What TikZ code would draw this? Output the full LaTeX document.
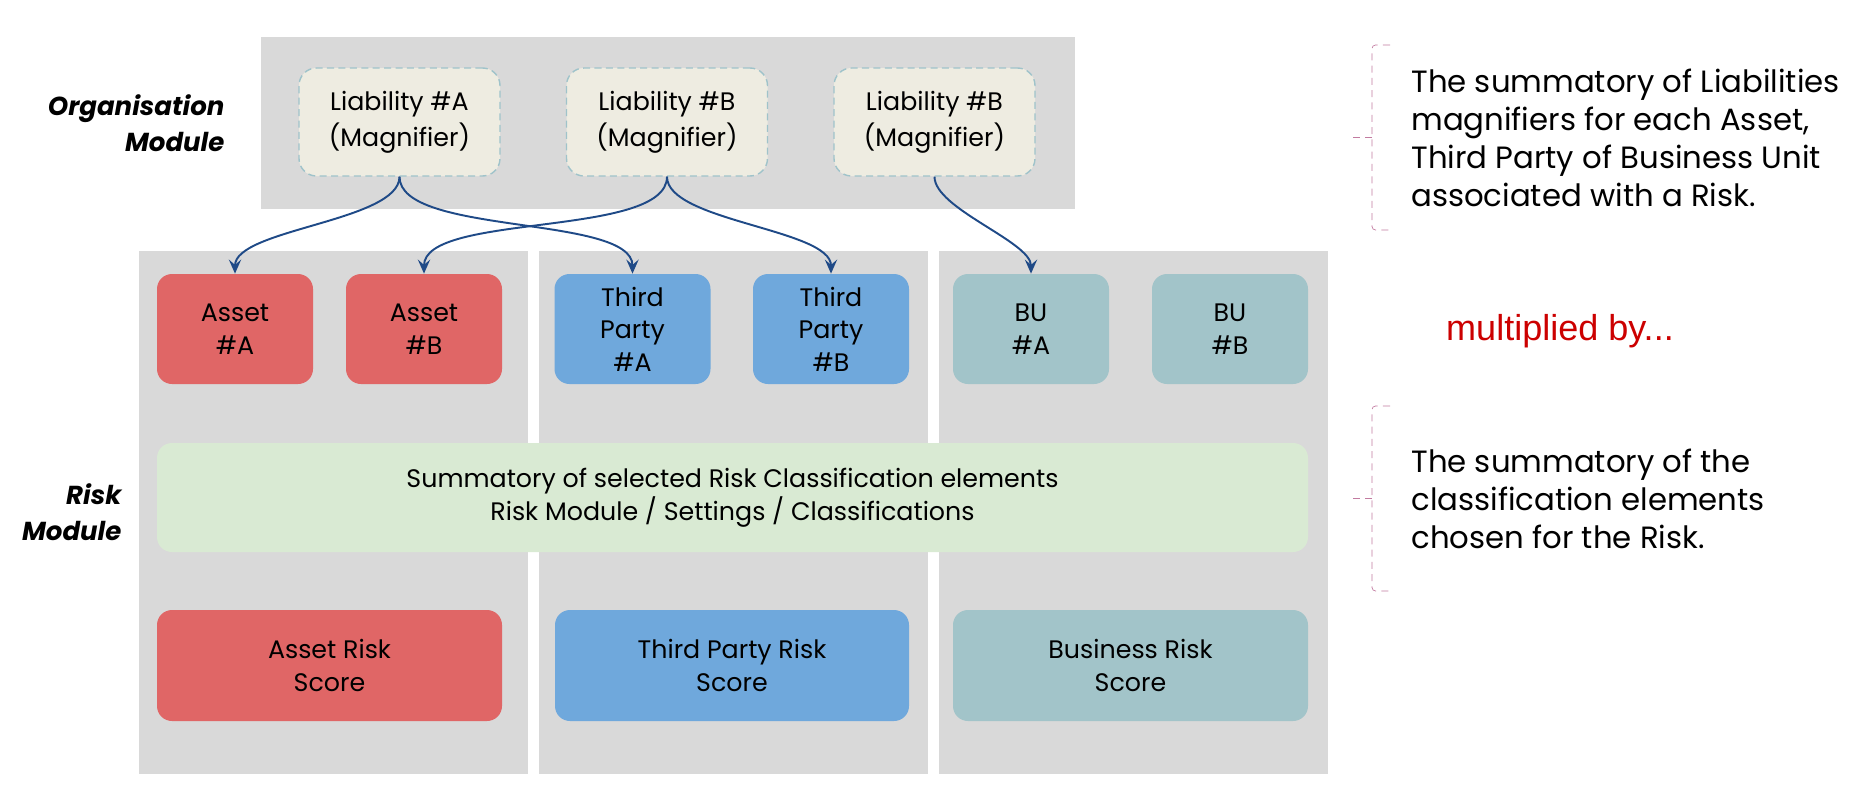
\documentclass[tikz,border=0pt]{standalone}
\usepackage{fontspec}
\setmainfont{Poppins}
\newfontfamily\arialfont{Liberation Sans}
\usepackage{tikz}
\usetikzlibrary{arrows,arrows.meta,shapes,positioning}
\usepackage{xcolor}
\definecolor{rmgray}{HTML}{D9D9D9}
\definecolor{rmcream}{HTML}{EEECE1}
\definecolor{rmdash}{HTML}{9FC3CA}
\definecolor{rmred}{HTML}{E06666}
\definecolor{rmblue}{HTML}{6FA8DC}
\definecolor{rmteal}{HTML}{A2C4C9}
\definecolor{rmgreen}{HTML}{D9EAD3}
\definecolor{rmarrow}{HTML}{1F4A87}
\definecolor{rmpink}{HTML}{C27BA0}
\definecolor{rmmult}{HTML}{CC0000}
\newcommand{\boxfont}{\fontsize{14.4}{18.5}\selectfont}
\newcommand{\notefont}{\fontsize{17.5}{21.6}\selectfont}
\tikzstyle{arrow} = [line width=1.1pt,->,>={Stealth[length=8pt,width=7pt,inset=3pt]},color=rmarrow]
\tikzstyle{panel} = [rectangle, fill=rmgray, inner sep=0pt]
\tikzstyle{modlabel} = [align=right, font=\fontsize{14.8}{20.5}\selectfont\bfseries\itshape]
\tikzstyle{liability} = [rectangle, rounded corners=0.35cm, minimum width=4.02cm, minimum height=2.16cm, text centered, align=center, draw=rmdash, line width=0.8pt, dash pattern=on 4pt off 2.5pt, fill=rmcream, font=\fontsize{14.4}{20.5}\selectfont]
\tikzstyle{element} = [rectangle, rounded corners=0.3cm, minimum width=3.12cm, minimum height=2.2cm, text centered, align=center, font=\boxfont]
\tikzstyle{asset} = [element, fill=rmred]
\tikzstyle{party} = [element, fill=rmblue]
\tikzstyle{unit} = [element, fill=rmteal]
\tikzstyle{note} = [anchor=west, align=left, inner sep=0pt, font=\notefont]
\tikzstyle{bracket} = [thin, color=rmpink, dash pattern=on 4pt off 3pt, rounded corners=2pt]

\begin{document}
\begin{tikzpicture}
\useasboundingbox (0,0) rectangle (37.32,-15.96);

% Organisation module
\node (orgpanel) [panel, minimum width=16.28cm, minimum height=3.44cm] at (13.36,-2.46) {};
\node (orglabel) [modlabel, left=0.6cm of orgpanel] {Organisation\\Module};
\node (liabA) [liability] at (7.99,-2.44) {Liability \#A\\(Magnifier)};
\node (liabB) [liability, right of=liabA, node distance=5.35cm] {Liability \#B\\(Magnifier)};
\node (liabC) [liability, right of=liabB, node distance=5.35cm] {Liability \#B\\(Magnifier)};

% Risk module
\node (riskA) [panel, minimum width=7.78cm, minimum height=10.46cm] at (6.67,-10.25) {};
\node (riskB) [panel, minimum width=7.78cm, minimum height=10.46cm, right of=riskA, node distance=8cm] {};
\node (riskC) [panel, minimum width=7.78cm, minimum height=10.46cm, right of=riskB, node distance=8cm] {};
\node (risklabel) [modlabel, left=0.22cm of riskA] {Risk\\Module};

\node (assetA) [asset] at (4.70,-6.58) {Asset\\\#A};
\node (assetB) [asset, right of=assetA, node distance=3.78cm] {Asset\\\#B};
\node (partyA) [party] at (12.65,-6.58) {Third\\Party\\\#A};
\node (partyB) [party, right of=partyA, node distance=3.97cm] {Third\\Party\\\#B};
\node (unitA) [unit] at (20.62,-6.58) {BU\\\#A};
\node (unitB) [unit, right of=unitA, node distance=3.98cm] {BU\\\#B};

\node (classif) [element, fill=rmgreen, minimum width=23.02cm, minimum height=2.18cm] at (14.65,-9.95) {Summatory of selected Risk Classification elements\\Risk Module / Settings / Classifications};

\node (assetscore) [asset, minimum width=6.9cm, minimum height=2.22cm] at (6.59,-13.31) {Asset Risk\\Score};
\node (partyscore) [party, minimum width=7.08cm, minimum height=2.22cm] at (14.64,-13.31) {Third Party Risk\\Score};
\node (unitscore) [unit, minimum width=7.1cm, minimum height=2.22cm] at (22.61,-13.31) {Business Risk\\Score};

% Magnifiers
\draw[arrow] (liabA.south) to[out=-90,in=90,looseness=0.6] (assetA.north);
\draw[arrow] (liabA.south) to[out=-90,in=90,looseness=0.6] (partyA.north);
\draw[arrow] (liabB.south) to[out=-90,in=90,looseness=0.6] (assetB.north);
\draw[arrow] (liabB.south) to[out=-90,in=90,looseness=0.6] (partyB.north);
\draw[arrow] (liabC.south) to[out=-90,in=90,looseness=0.6] (unitA.north);

% Notes
\draw[bracket] (27.8,-0.9) -| (27.44,-4.6) -- (27.8,-4.6);
\draw[bracket] (27.44,-2.74) -- (26.98,-2.74);
\node (notemag) [note] at (28.22,-2.75) {The summatory of Liabilities\\magnifiers for each Asset,\\Third Party of Business Unit\\associated with a Risk.};
\node (multiplied) [font=\arialfont\fontsize{20.5}{24}\selectfont, color=rmmult] at (31.2,-6.62) {multiplied by...};
\draw[bracket] (27.8,-8.12) -| (27.44,-11.82) -- (27.8,-11.82);
\draw[bracket] (27.44,-9.97) -- (26.98,-9.97);
\node (noteclass) [note] at (28.22,-9.98) {The summatory of the\\classification elements\\chosen for the Risk.};
\end{tikzpicture}
\end{document}
